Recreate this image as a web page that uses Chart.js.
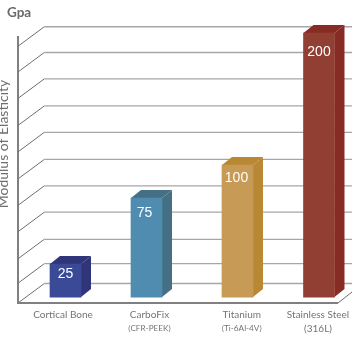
<!DOCTYPE html>
<html>
<head>
<meta charset="utf-8">
<style>html,body{margin:0;padding:0;background:#fff}canvas{display:block}</style>
<script src="https://cdn.jsdelivr.net/npm/chart.js@4"></script>
</head>
<body>
<div style="width:352px;height:351px;position:relative"><canvas id="c"></canvas></div>
<script>
const categories = ['Cortical Bone', 'CarboFix', 'Titanium', 'Stainless Steel'];
const subLabels = ['', '(CFR-PEEK)', '(Ti-6Al-4V)', '(316L)'];
const values = [25, 75, 100, 200];
const gridValues = [190, 170.5, 150.5, 130, 110, 89.5, 69.5, 49.5, 29, 10.5, -4.5];
const yTitle = 'Modulus of Elasticity';
const unitLabel = 'Gpa';

const frontColors = ['#3a4a96', '#4f8cb0', '#c79a55', '#923f33'];
const sideColors = ['#2f3578', '#446f84', '#b98835', '#872c24'];
const topColors = ['#2f3578', '#446f84', '#b98835', '#872c24'];
const barNudge = [5.75, 3.25, 10.75, 8.75];
const labelNudge = [3.25, 6.25, 15, 7.75];
const valueDrop = [10, 15, 13, 19];
const valueNudge = [0, -2, -1, 0];

const scene = {
  id: 'scene',
  afterDatasetsUpdate(chart) {
    chart.getDatasetMeta(0).data.forEach((el, i) => { el.x += barNudge[i]; });
  },
  afterUpdate(chart) {
    ['x', 'x2'].forEach(id => {
      chart.scales[id].getLabelItems().forEach((it, i) => { it.options.translation[0] += labelNudge[i]; });
    });
  },
  beforeDatasetsDraw(chart) {
    const { ctx, scales: { y }, chartArea: a } = chart;
    const dx = 26.3, dy = 19.5;
    ctx.save();
    ctx.lineWidth = 1;
    gridValues.forEach(v => {
      const py = y.getPixelForValue(v);
      ctx.strokeStyle = '#6e6e6e';
      ctx.beginPath(); ctx.moveTo(a.left, py); ctx.lineTo(a.left + dx, py - dy); ctx.stroke();
      ctx.strokeStyle = '#a6a6a6';
      ctx.lineWidth = 1.3;
      ctx.beginPath(); ctx.moveTo(a.left + dx, py - dy); ctx.lineTo(a.right, py - dy); ctx.stroke();
      ctx.lineWidth = 1;
    });
    const by = y.getPixelForValue(gridValues[gridValues.length - 1]);
    ctx.strokeStyle = '#808080';
    ctx.lineWidth = 2;
    ctx.beginPath(); ctx.moveTo(a.left, by); ctx.lineTo(338, by); ctx.stroke();
    ctx.strokeStyle = '#6e6e6e';
    ctx.lineWidth = 1;
    ctx.beginPath(); ctx.moveTo(338, by); ctx.lineTo(338 + 14, by - 11); ctx.stroke();

    const ox = 10, oy = 8;
    chart.getDatasetMeta(0).data.forEach((el, i) => {
      const r = el.x + el.width / 2, l = el.x - el.width / 2, t = el.y, b = el.base;
      ctx.fillStyle = sideColors[i];
      ctx.beginPath();
      ctx.moveTo(r, t); ctx.lineTo(r + ox, t - oy); ctx.lineTo(r + ox, b - oy); ctx.lineTo(r, b);
      ctx.closePath(); ctx.fill();
      ctx.fillStyle = topColors[i];
      ctx.beginPath();
      ctx.moveTo(l, t); ctx.lineTo(l + ox, t - oy); ctx.lineTo(r + ox, t - oy); ctx.lineTo(r, t);
      ctx.closePath(); ctx.fill();
    });
    ctx.restore();
  },
  afterDatasetsDraw(chart) {
    const { ctx } = chart;
    ctx.save();
    ctx.fillStyle = '#ffffff';
    ctx.font = '14px "Liberation Sans"';
    ctx.textAlign = 'center';
    ctx.textBaseline = 'middle';
    chart.getDatasetMeta(0).data.forEach((el, i) => {
      ctx.fillText(String(values[i]), el.x + valueNudge[i], el.y + valueDrop[i]);
    });
    ctx.fillStyle = '#6a6a6a';
    ctx.font = '700 13.5px "Lato"';
    ctx.textAlign = 'left';
    ctx.fillText(unitLabel, 7, 13);
    ctx.fillStyle = '#6f6f6f';
    ctx.font = '14px "Lato"';
    ctx.textAlign = 'center';
    ctx.translate(3, 144);
    ctx.rotate(-Math.PI / 2);
    ctx.fillText(yTitle, 0, 0);
    ctx.restore();
  }
};

new Chart(document.getElementById('c'), {
  type: 'bar',
  data: {
    labels: categories,
    datasets: [{
      data: values,
      backgroundColor: frontColors,
      barThickness: 31,
      clip: false
    }]
  },
  plugins: [scene],
  options: {
    responsive: true,
    maintainAspectRatio: false,
    animation: false,
    layout: { padding: { left: 18, top: 37, right: 0, bottom: 0 } },
    plugins: { legend: { display: false }, tooltip: { enabled: false }, title: { display: false } },
    scales: {
      y: {
        min: -4.5,
        max: 197,
        grid: { display: false },
        border: { display: true, color: '#808080', width: 2 },
        ticks: { display: false },
        afterFit(s) { s.width = 0; }
      },
      x: {
        grid: { display: false, drawTicks: false },
        border: { display: false },
        ticks: { padding: 6, color: '#747474', font: { family: 'Lato', size: 10 }, maxRotation: 0, autoSkip: false },
        afterFit(s) { s.height = 19; }
      },
      x2: {
        type: 'category',
        labels: subLabels,
        position: 'bottom',
        grid: { display: false, drawTicks: false },
        border: { display: false },
        ticks: {
          padding: 1,
          color: '#747474',
          font: ctx => ({ family: 'Lato', size: ctx.index === 3 ? 10 : 8.2 }),
          maxRotation: 0,
          autoSkip: false
        },
        afterFit(s) { s.height = 29; }
      }
    }
  }
});
</script>
</body>
</html>
